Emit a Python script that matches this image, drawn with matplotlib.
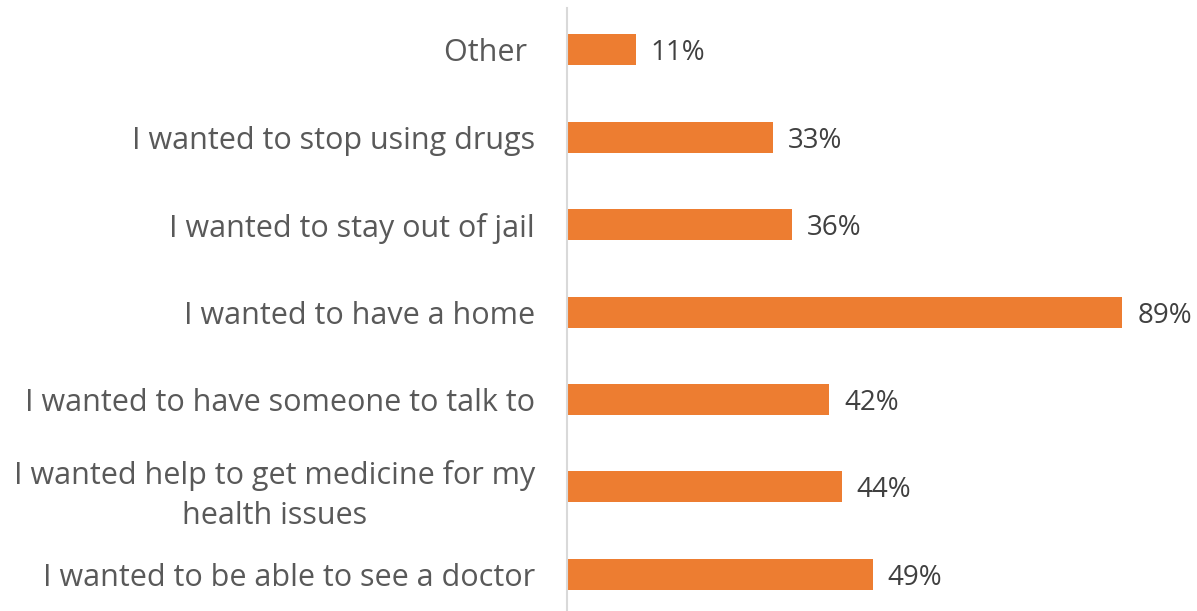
import matplotlib.pyplot as plt

# survey responses, top to bottom
reasons = [
    'Other ',
    'I wanted to stop using drugs',
    'I wanted to stay out of jail',
    'I wanted to have a home',
    'I wanted to have someone to talk to',
    'I wanted help to get medicine for my\nhealth issues',
    'I wanted to be able to see a doctor',
]
shares = [11, 33, 36, 89, 42, 44, 49]

bar_color = '#ED7D31'
label_color = '#595959'
value_color = '#404040'

plt.rcParams['font.family'] = ['Open Sans', 'DejaVu Sans']

fig = plt.figure(figsize=(11.97, 6.11), dpi=100)
ax = fig.add_axes([567 / 1197, 0, 1 - 567 / 1197, 1 - 8 / 611])

pos = list(range(len(reasons)))
ax.barh(pos, shares, height=0.355, color=bar_color)

for y, v in zip(pos, shares):
    ax.text(v + 2.4, y, f'{v}%', va='center_baseline', ha='left',
            fontsize=20, color=value_color)

ax.set_yticks(pos)
ax.set_yticklabels(reasons, fontsize=22, color=label_color,
                   multialignment='center', linespacing=1.42)
ax.tick_params(axis='y', length=0, pad=23)
ax.set_xticks([])

ax.set_xlim(0, (1197 - 567) / 6.24)
ax.set_ylim(6.42, -0.48)

for side in ['top', 'right', 'bottom']:
    ax.spines[side].set_visible(False)
ax.spines['left'].set_color('#D9D9D9')
ax.spines['left'].set_linewidth(1.5)

fig.savefig('out.png', dpi=100)
plt.close(fig)
